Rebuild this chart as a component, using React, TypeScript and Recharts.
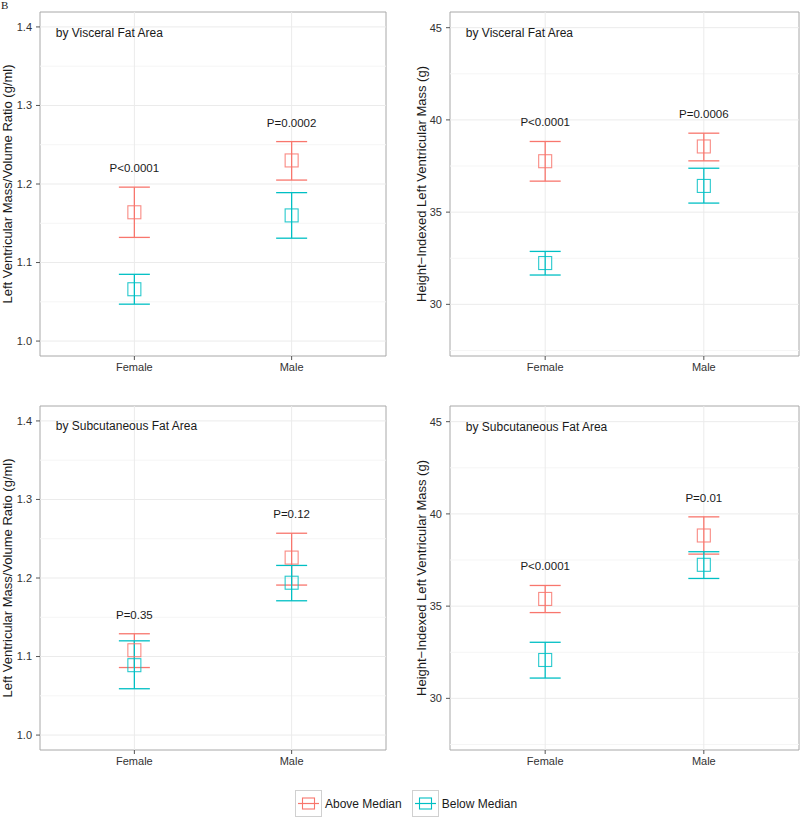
import React from "react";
import {
  ErrorBar,
  ReferenceArea,
  ReferenceLine,
  Scatter,
  ScatterChart,
  XAxis,
  YAxis,
} from "recharts";

// ggplot default hues
const ROJO = "#F8766D";
const CIAN = "#00BFC4";
const GRID_MAJOR = "#ebebeb";
const GRID_MINOR = "#f5f5f5";
const BORDE = "#a8a8a8";
const TEXTO = "#1a1a1a";
const FUENTE = "'Liberation Sans', Arial, Helvetica, sans-serif";

const SEXOS = ["Female", "Male"];
const SERIES = ["Above Median", "Below Median"];

// [media, inferior, superior] por sexo
const VFA_RATIO_ABOVE = [[1.164, 1.132, 1.196], [1.23, 1.205, 1.254]];
const VFA_RATIO_BELOW = [[1.066, 1.047, 1.085], [1.16, 1.131, 1.189]];
const VFA_RATIO_P = ["P<0.0001", "P=0.0002"];
const VFA_RATIO_P_Y = [1.221, 1.278];

const VFA_MASS_ABOVE = [[37.76, 36.68, 38.83], [38.56, 37.78, 39.28]];
const VFA_MASS_BELOW = [[32.24, 31.59, 32.87], [36.42, 35.49, 37.38]];
const VFA_MASS_P = ["P<0.0001", "P=0.0006"];
const VFA_MASS_P_Y = [39.86, 40.31];

const SFA_RATIO_ABOVE = [[1.108, 1.086, 1.129], [1.226, 1.191, 1.257]];
const SFA_RATIO_BELOW = [[1.089, 1.059, 1.12], [1.194, 1.171, 1.216]];
const SFA_RATIO_P = ["P=0.35", "P=0.12"];
const SFA_RATIO_P_Y = [1.153, 1.282];

const SFA_MASS_ABOVE = [[35.39, 34.65, 36.12], [38.83, 37.82, 39.84]];
const SFA_MASS_BELOW = [[32.08, 31.1, 33.04], [37.24, 36.5, 37.95]];
const SFA_MASS_P = ["P<0.0001", "P=0.01"];
const SFA_MASS_P_Y = [37.15, 40.86];

const RATIO_DOMAIN = [0.981, 1.419];
const RATIO_TICKS = [1.0, 1.1, 1.2, 1.3, 1.4];
const RATIO_MINOR = [1.05, 1.15, 1.25, 1.35];
const MASS_DOMAIN = [27.2, 45.85];
const MASS_TICKS = [30, 35, 40, 45];
const MASS_MINOR = [27.5, 32.5, 37.5, 42.5];
const X_DOMAIN = [0.4, 2.6];
const X_TICKS = [1, 2];

const RATIO_LABEL = "Left Ventricular Mass/Volume Ratio (g/ml)";
const MASS_LABEL = "Height\u2212Indexed Left Ventricular Mass (g)";

function aPuntos(filas: number[][]) {
  return filas.map((f, i) => ({
    x: i + 1,
    y: f[0],
    err: [f[0] - f[1], f[2] - f[0]],
  }));
}

function cuadrado(color: string) {
  return (p: any) => (
    <rect
      x={p.cx - 6.5}
      y={p.cy - 6.5}
      width={13}
      height={13}
      fill="none"
      stroke={color}
      strokeOpacity={0.85}
      strokeWidth={1.1}
    />
  );
}

function texto(anchor: "start" | "middle", size: number) {
  return (p: any) => (
    <text
      x={p.cx}
      y={p.cy}
      textAnchor={anchor}
      dominantBaseline="central"
      fontSize={size}
      fontFamily={FUENTE}
      fill={TEXTO}
    >
      {p.payload.label}
    </text>
  );
}

type PanelProps = {
  left: number;
  top: number;
  width: number;
  height: number;
  marginTop: number;
  marginRight: number;
  yWidth: number;
  labelOffset: number;
  titulo: string;
  tituloY: number;
  yLabel: string;
  domain: number[];
  ticks: number[];
  minor: number[];
  above: number[][];
  below: number[][];
  pTexto: string[];
  pY: number[];
};

function Panel(props: PanelProps) {
  const pLabels = props.pTexto.map((t, i) => ({ x: i + 1, y: props.pY[i], label: t }));
  const titulo = [{ x: 0.5, y: props.tituloY, label: props.titulo }];
  const tick = { fontSize: 11, fill: "#333333", fontFamily: FUENTE };
  return (
    <div style={{ position: "absolute", left: props.left, top: props.top }}>
      <ScatterChart
        width={props.width}
        height={props.height}
        margin={{ top: props.marginTop, right: props.marginRight, left: 0, bottom: 0 }}
      >
        <XAxis
          type="number"
          dataKey="x"
          domain={X_DOMAIN}
          ticks={X_TICKS}
          allowDataOverflow
          tickFormatter={(v) => SEXOS[Number(v) - 1]}
          tick={tick}
          height={24}
          tickSize={4}
          tickMargin={3}
          axisLine={false}
          tickLine={{ stroke: "#555555" }}
        />
        <YAxis
          type="number"
          dataKey="y"
          domain={props.domain}
          ticks={props.ticks}
          allowDataOverflow
          tickFormatter={(v) => (props.ticks[0] < 10 ? Number(v).toFixed(1) : String(v))}
          tick={tick}
          width={props.yWidth}
          tickSize={4}
          tickMargin={4}
          axisLine={false}
          tickLine={{ stroke: "#555555" }}
          label={{
            value: props.yLabel,
            angle: -90,
            position: "insideLeft",
            offset: props.labelOffset,
            style: { textAnchor: "middle", fontSize: 13, fill: TEXTO, fontFamily: FUENTE },
          }}
        />
        {props.minor.map((v) => (
          <ReferenceLine key={"m" + v} y={v} stroke={GRID_MINOR} strokeWidth={1} />
        ))}
        {props.ticks.map((v) => (
          <ReferenceLine key={"t" + v} y={v} stroke={GRID_MAJOR} strokeWidth={1} />
        ))}
        {X_TICKS.map((v) => (
          <ReferenceLine key={"x" + v} x={v} stroke={GRID_MAJOR} strokeWidth={1} />
        ))}
        <ReferenceArea
          x1={X_DOMAIN[0]}
          x2={X_DOMAIN[1]}
          y1={props.domain[0]}
          y2={props.domain[1]}
          fill="none"
          fillOpacity={0}
          stroke={BORDE}
          strokeWidth={1}
        />
        <Scatter data={aPuntos(props.above)} shape={cuadrado(ROJO)} isAnimationActive={false}>
          <ErrorBar dataKey="err" direction="y" width={15.5} stroke={ROJO} strokeWidth={1.3} />
        </Scatter>
        <Scatter data={aPuntos(props.below)} shape={cuadrado(CIAN)} isAnimationActive={false}>
          <ErrorBar dataKey="err" direction="y" width={15.5} stroke={CIAN} strokeWidth={1.3} />
        </Scatter>
        <Scatter data={pLabels} shape={texto("middle", 11.5)} isAnimationActive={false} />
        <Scatter data={titulo} shape={texto("start", 12)} isAnimationActive={false} />
      </ScatterChart>
    </div>
  );
}

function Leyenda() {
  const colores = [ROJO, CIAN];
  return (
    <div
      style={{
        position: "absolute",
        left: 295,
        top: 790,
        display: "flex",
        alignItems: "center",
        gap: 10,
        fontFamily: FUENTE,
        fontSize: 12,
        color: TEXTO,
      }}
    >
      {SERIES.map((s, i) => (
        <div key={s} style={{ display: "flex", alignItems: "center", gap: 3 }}>
          <svg width={27} height={27}>
            <rect x={0.5} y={0.5} width={26} height={26} fill="#ffffff" stroke="#d0d0d0" />
            <line x1={3} y1={13.5} x2={24} y2={13.5} stroke={colores[i]} strokeWidth={1.2} />
            <rect x={7.5} y={8} width={12} height={11} fill="none" stroke={colores[i]} strokeWidth={1.1} />
          </svg>
          <span>{s}</span>
        </div>
      ))}
    </div>
  );
}

export default function App() {
  return (
    <div
      style={{
        position: "absolute",
        left: 0,
        top: 0,
        width: 800,
        height: 818,
        background: "#ffffff",
        overflow: "hidden",
      }}
    >
      <div
        style={{
          position: "absolute",
          left: 1,
          top: 0,
          lineHeight: "11px",
          fontFamily: "'Liberation Serif', serif",
          fontSize: 11,
          color: "#222",
        }}
      >
        B
      </div>
      <Panel
        left={0}
        top={0}
        width={400}
        height={380}
        marginTop={12}
        marginRight={14}
        yWidth={40}
        labelOffset={7}
        titulo="by Visceral Fat Area"
        tituloY={1.392}
        yLabel={RATIO_LABEL}
        domain={RATIO_DOMAIN}
        ticks={RATIO_TICKS}
        minor={RATIO_MINOR}
        above={VFA_RATIO_ABOVE}
        below={VFA_RATIO_BELOW}
        pTexto={VFA_RATIO_P}
        pY={VFA_RATIO_P_Y}
      />
      <Panel
        left={400}
        top={0}
        width={400}
        height={380}
        marginTop={12}
        marginRight={1}
        yWidth={50}
        labelOffset={21}
        titulo="by Visceral Fat Area"
        tituloY={44.7}
        yLabel={MASS_LABEL}
        domain={MASS_DOMAIN}
        ticks={MASS_TICKS}
        minor={MASS_MINOR}
        above={VFA_MASS_ABOVE}
        below={VFA_MASS_BELOW}
        pTexto={VFA_MASS_P}
        pY={VFA_MASS_P_Y}
      />
      <Panel
        left={0}
        top={380}
        width={400}
        height={394}
        marginTop={26}
        marginRight={14}
        yWidth={40}
        labelOffset={7}
        titulo="by Subcutaneous Fat Area"
        tituloY={1.393}
        yLabel={RATIO_LABEL}
        domain={RATIO_DOMAIN}
        ticks={RATIO_TICKS}
        minor={RATIO_MINOR}
        above={SFA_RATIO_ABOVE}
        below={SFA_RATIO_BELOW}
        pTexto={SFA_RATIO_P}
        pY={SFA_RATIO_P_Y}
      />
      <Panel
        left={400}
        top={380}
        width={400}
        height={394}
        marginTop={26}
        marginRight={1}
        yWidth={50}
        labelOffset={21}
        titulo="by Subcutaneous Fat Area"
        tituloY={44.72}
        yLabel={MASS_LABEL}
        domain={MASS_DOMAIN}
        ticks={MASS_TICKS}
        minor={MASS_MINOR}
        above={SFA_MASS_ABOVE}
        below={SFA_MASS_BELOW}
        pTexto={SFA_MASS_P}
        pY={SFA_MASS_P_Y}
      />
      <Leyenda />
    </div>
  );
}
